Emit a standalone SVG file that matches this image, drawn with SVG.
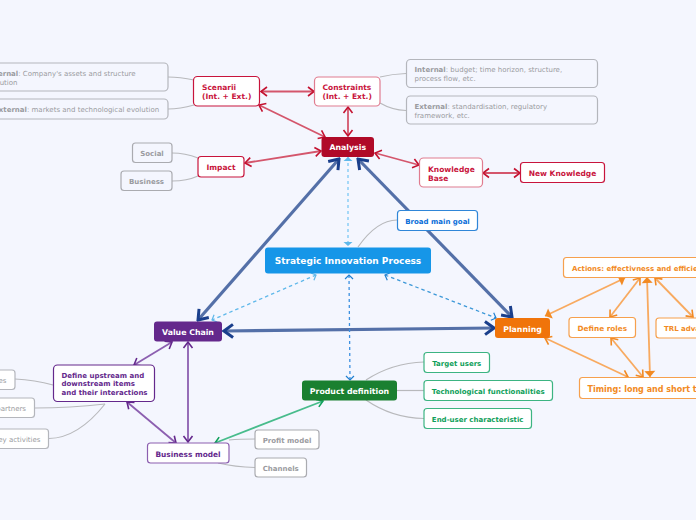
<svg xmlns="http://www.w3.org/2000/svg" width="696" height="520" viewBox="0 0 696 520">
<style>
text{font-family:"DejaVu Sans",Verdana,sans-serif;font-size:7px}
.b{font-weight:700}
.box{fill:#fff;stroke-width:1.2}
.g rect{fill:#f4f6fe;stroke:#b4b6bc}
.g text{fill:#9a9ba0}
.gw rect{fill:#fff;stroke:#aaabb0}
.gw text{fill:#9a9ba0;font-weight:700}
.r rect{fill:#fff;stroke:#c8143c}
.r text{fill:#c8143c;font-weight:700;font-size:7.500px}
.o rect{fill:#fff;stroke:#f6a04d}
.o text{fill:#f28a23;font-weight:700}
.p rect{fill:#fff;stroke:#8c5fb0}
.p text{fill:#64288c;font-weight:700}
.gr rect{fill:#fff;stroke:#3cb482}
.gr text{fill:#0fa05a;font-weight:700}
.w text{fill:#fff;font-weight:700;font-size:7.800px}
.cx line,.cx path{fill:none}
.lg{stroke:#b8b9bc;stroke-width:1.2}
.lb{stroke:#5470a8;stroke-width:3.2;marker-start:url(#mb);marker-end:url(#mb)}
.lr{stroke:#d4566c;stroke-width:1.8;marker-start:url(#mr);marker-end:url(#mr)}
.lo{stroke:#f8aa60;stroke-width:1.8;marker-start:url(#mo);marker-end:url(#mo)}
.lp{stroke:#8c5fb0;stroke-width:1.8;marker-start:url(#mp);marker-end:url(#mp)}
</style>
<defs>
<marker id="mb" viewBox="-12 -8 14 16" markerUnits="userSpaceOnUse" markerWidth="14" markerHeight="16" refX="0" refY="0" orient="auto-start-reverse"><path d="M-9-6.500L0 0L-9 6.500" fill="none" stroke="#1a3f8c" stroke-width="3"/></marker>
<marker id="mr" viewBox="-10 -6 12 12" markerUnits="userSpaceOnUse" markerWidth="12" markerHeight="12" refX="0" refY="0" orient="auto-start-reverse"><path d="M-6-4.500L0 0L-6 4.500" fill="none" stroke="#c41230" stroke-width="1.6"/></marker>
<marker id="mo" viewBox="-10 -6 12 12" markerUnits="userSpaceOnUse" markerWidth="12" markerHeight="12" refX="0" refY="0" orient="auto-start-reverse"><path d="M-6-4.500L0 0L-6 4.500" fill="none" stroke="#f28a23" stroke-width="1.6"/></marker>
<marker id="mof" viewBox="-10 -6 12 12" markerUnits="userSpaceOnUse" markerWidth="12" markerHeight="12" refX="0" refY="0" orient="auto-start-reverse"><path d="M-6-5.500L0 0L-6 5.500Z" fill="#f28a23"/></marker>
<marker id="mp" viewBox="-10 -6 12 12" markerUnits="userSpaceOnUse" markerWidth="12" markerHeight="12" refX="0" refY="0" orient="auto-start-reverse"><path d="M-6-4.500L0 0L-6 4.500" fill="none" stroke="#64288c" stroke-width="1.6"/></marker>
<marker id="mgr" viewBox="-10 -6 12 12" markerUnits="userSpaceOnUse" markerWidth="12" markerHeight="12" refX="0" refY="0" orient="auto-start-reverse"><path d="M-6-4L0 0L-6 4" fill="none" stroke="#0fa05a" stroke-width="1.6"/></marker>
<marker id="ml" viewBox="-8 -5 10 10" markerUnits="userSpaceOnUse" markerWidth="10" markerHeight="10" refX="0" refY="0" orient="auto-start-reverse"><path d="M-4-4L0 0L-4 4" fill="none" stroke="#5fb8ea" stroke-width="1.2"/></marker>
<marker id="mlf" viewBox="-8 -5 10 10" markerUnits="userSpaceOnUse" markerWidth="10" markerHeight="10" refX="0" refY="0" orient="auto-start-reverse"><path d="M-4-4.500L0 0L-4 4.500Z" fill="#5fb8ea"/></marker>
<marker id="md" viewBox="-8 -5 10 10" markerUnits="userSpaceOnUse" markerWidth="10" markerHeight="10" refX="0" refY="0" orient="auto-start-reverse"><path d="M-4-4L0 0L-4 4" fill="none" stroke="#1f7fd0" stroke-width="1.2"/></marker>
</defs>
<rect width="696" height="520" fill="#f4f6fe"/>
<g id="connectors" class="cx">
<path class="lg" d="M168 77Q180 77 194 80"/>
<path class="lg" d="M168 109Q180 109 194 105"/>
<path class="lg" d="M172 153Q185 153 198 158"/>
<path class="lg" d="M172 181Q187 181 198 176"/>
<path class="lg" d="M380 77Q392 74 406 73.500"/>
<path class="lg" d="M380 103Q392 110 406 110.500"/>
<path class="lg" d="M358 247Q377 220 397 220"/>
<path class="lg" d="M15 379Q35 380 53 385"/>
<path class="lg" d="M35 408Q70 408 105 404"/>
<path class="lg" d="M49 438.500Q78 438 105 404"/>
<path class="lg" d="M229 440Q240 439 255 439"/>
<path class="lg" d="M218 463Q235 467 255 467.500"/>
<path class="lg" d="M366 380Q392 363 424 362"/>
<path class="lg" d="M397 390.500H424"/>
<path class="lg" d="M366 400Q392 418 424 418.500"/>
<line class="lb" x1="339" y1="159" x2="198" y2="320"/>
<line class="lb" x1="358" y1="159" x2="512" y2="317"/>
<line class="lb" x1="224" y1="331" x2="494" y2="328"/>
<line class="lr" x1="261" y1="91.500" x2="314" y2="91.500"/>
<line class="lr" x1="259" y1="105" x2="325" y2="137"/>
<line class="lr" x1="348" y1="107" x2="348" y2="136"/>
<line class="lr" x1="245" y1="163" x2="321" y2="151"/>
<line class="lr" x1="375" y1="153" x2="419" y2="165"/>
<line class="lr" x1="483" y1="173" x2="520" y2="173"/>
<line class="lo" x1="545" y1="316" x2="625" y2="278" style="marker-start:url(#mof);marker-end:url(#mof)"/>
<line class="lo" x1="640" y1="278" x2="610" y2="317"/>
<line class="lo" x1="655" y1="278" x2="693" y2="317"/>
<line class="lo" x1="647" y1="277" x2="650" y2="377" style="marker-start:url(#mof);marker-end:url(#mof)"/>
<line class="lo" x1="545" y1="338" x2="628" y2="377"/>
<line class="lo" x1="611" y1="338" x2="643" y2="377"/>
<line class="lp" x1="172" y1="342" x2="134" y2="365"/>
<line class="lp" x1="188" y1="342" x2="188" y2="442"/>
<line class="lp" x1="127" y1="402" x2="176" y2="443"/>
<line x1="215" y1="443" x2="323" y2="401" stroke="#48bc8c" stroke-width="1.8" marker-start="url(#mgr)" marker-end="url(#mgr)"/>
<line x1="348" y1="157" x2="348" y2="246" stroke="#7cc8f4" stroke-width="1.3" stroke-dasharray="3 3" marker-start="url(#mlf)" marker-end="url(#mlf)"/>
<line x1="316" y1="275" x2="212" y2="320" stroke="#5fb8ea" stroke-width="1.3" stroke-dasharray="3.500 3" marker-start="url(#ml)" marker-end="url(#ml)"/>
<line x1="349" y1="275" x2="350" y2="380" stroke="#3c90e0" stroke-width="1.3" stroke-dasharray="3 3" marker-start="url(#md)" marker-end="url(#md)"/>
<line x1="385" y1="275" x2="496" y2="318" stroke="#3c98d8" stroke-width="1.3" stroke-dasharray="3.500 3" marker-start="url(#md)" marker-end="url(#md)"/>
</g>
<g id="n-company" class="g"><rect class="box" x="-24" y="63" width="192" height="28" rx="4"/><text x="-13" y="76"><tspan class="b">Internal</tspan>: Company's assets and structure</text><text x="-15" y="84.500">evolution</text></g>
<g id="n-markets" class="g"><rect class="box" x="-24" y="99" width="192" height="20" rx="4"/><text x="-6" y="112"><tspan class="b">External</tspan>: markets and technological evolution</text></g>
<g id="n-scenarii" class="r"><rect class="box" x="193.500" y="76.500" width="66" height="29.500" rx="4"/><text x="202" y="90">Scenarii</text><text x="202" y="99">(Int. + Ext.)</text></g>
<g id="n-constraints" class="r"><rect class="box" x="314.500" y="77" width="65.500" height="29" rx="4" style="stroke:#e07c90"/><text x="322.500" y="90">Constraints</text><text x="322.500" y="99">(Int. + Ext.)</text></g>
<g id="n-internal" class="g"><rect class="box" x="406.500" y="59.500" width="191" height="28" rx="4"/><text x="414.500" y="72"><tspan class="b">Internal</tspan>: budget; time horizon, structure,</text><text x="414.500" y="81">process flow, etc.</text></g>
<g id="n-external" class="g"><rect class="box" x="406.500" y="96" width="191" height="28" rx="4"/><text x="414.500" y="109"><tspan class="b">External</tspan>: standardisation, regulatory</text><text x="414.500" y="117.500">framework, etc.</text></g>
<g id="n-analysis" class="w"><rect x="321.500" y="137" width="52.500" height="20" rx="3" fill="#b00a28"/><text x="347.800" y="150" text-anchor="middle">Analysis</text></g>
<g id="n-impact" class="r"><rect class="box" x="198" y="156.500" width="46" height="20.500" rx="3"/><text x="221" y="170" text-anchor="middle">Impact</text></g>
<g id="n-social" class="gw"><rect class="box" x="132.500" y="143" width="39.500" height="19.500" rx="3" style="fill:#f4f6fe"/><text x="152" y="156" text-anchor="middle">Social</text></g>
<g id="n-business" class="gw"><rect class="box" x="121" y="171" width="51" height="19.500" rx="3" style="fill:#f4f6fe"/><text x="146.500" y="184" text-anchor="middle">Business</text></g>
<g id="n-kb" class="r"><rect class="box" x="419.500" y="158" width="63" height="29" rx="4" style="stroke:#e07c90"/><text x="428" y="171.500">Knowledge</text><text x="428" y="180.500">Base</text></g>
<g id="n-newk" class="r"><rect class="box" x="520.500" y="162.500" width="84" height="20" rx="3"/><text x="562.500" y="176" text-anchor="middle">New Knowledge</text></g>
<g id="n-goal"><rect class="box" x="397.500" y="210.500" width="80" height="20" rx="3" stroke="#2f86d8"/><text class="b" x="437.500" y="223.500" text-anchor="middle" fill="#0a6ed8">Broad main goal</text></g>
<g id="n-root" class="w"><rect x="265" y="247.500" width="166" height="26" rx="3" fill="#1696e8"/><text x="348" y="264" text-anchor="middle" style="font-size:9px">Strategic Innovation Process</text></g>
<g id="n-value" class="w"><rect x="154" y="321.500" width="68" height="20" rx="3" fill="#64288c"/><text x="188" y="335" text-anchor="middle">Value Chain</text></g>
<g id="n-planning" class="w"><rect x="495" y="318" width="55" height="20" rx="3" fill="#f0740a"/><text x="522.500" y="331.500" text-anchor="middle">Planning</text></g>
<g id="n-product" class="w"><rect x="302" y="380.500" width="95" height="20" rx="3" fill="#1a8030"/><text x="349.500" y="394" text-anchor="middle">Product definition</text></g>
<g id="n-actions" class="o"><rect class="box" x="563.500" y="257.500" width="150" height="20" rx="3"/><text x="572" y="270.500">Actions: effectivness and efficiency</text></g>
<g id="n-roles" class="o"><rect class="box" x="569" y="317.500" width="66.500" height="20" rx="3"/><text x="602.300" y="330.500" text-anchor="middle" style="font-size:7.300px">Define roles</text></g>
<g id="n-trl" class="o"><rect class="box" x="656" y="318" width="60" height="20" rx="3"/><text x="664" y="331">TRL advancement</text></g>
<g id="n-timing" class="o"><rect class="box" x="579.500" y="377.500" width="150" height="21" rx="3"/><text x="587.500" y="391.500" style="font-size:8px">Timing: long and short term</text></g>
<g id="n-define" class="p"><rect class="box" x="53.500" y="365" width="101" height="36.500" rx="4" style="stroke:#64288c"/><text x="61.500" y="378">Define upstream and</text><text x="61.500" y="386">downstream items</text><text x="61.500" y="395">and their interactions</text></g>
<g id="n-bm" class="p"><rect class="box" x="147.500" y="443" width="81.500" height="20" rx="3"/><text x="188" y="456.500" text-anchor="middle" style="font-size:7.400px">Business model</text></g>
<g id="n-es" class="g"><rect class="box" x="-30" y="370" width="45" height="19.500" rx="3" style="fill:#fff"/><text x="6.500" y="383" text-anchor="end">Resources</text></g>
<g id="n-partners" class="g"><rect class="box" x="-30" y="398" width="64.500" height="19.500" rx="3" style="fill:#fff"/><text x="26" y="411" text-anchor="end">Key partners</text></g>
<g id="n-key" class="g"><rect class="box" x="-30" y="429" width="78.500" height="19.500" rx="3" style="fill:#fff"/><text x="40.500" y="442" text-anchor="end">Key activities</text></g>
<g id="n-profit" class="gw"><rect class="box" x="255" y="430" width="64" height="19" rx="3"/><text x="287" y="442.500" text-anchor="middle">Profit model</text></g>
<g id="n-channels" class="gw"><rect class="box" x="255" y="458" width="51.500" height="19" rx="3"/><text x="280.700" y="470.500" text-anchor="middle">Channels</text></g>
<g id="n-target" class="gr"><rect class="box" x="424" y="352.500" width="65.500" height="20" rx="3"/><text x="456.700" y="365.500" text-anchor="middle">Target users</text></g>
<g id="n-tech" class="gr"><rect class="box" x="424" y="380.500" width="128.500" height="20" rx="3"/><text x="488.200" y="393.500" text-anchor="middle">Technological functionalities</text></g>
<g id="n-enduser" class="gr"><rect class="box" x="424" y="408.500" width="107.500" height="20" rx="3"/><text x="477.700" y="421.500" text-anchor="middle">End-user characteristic</text></g>
</svg>
